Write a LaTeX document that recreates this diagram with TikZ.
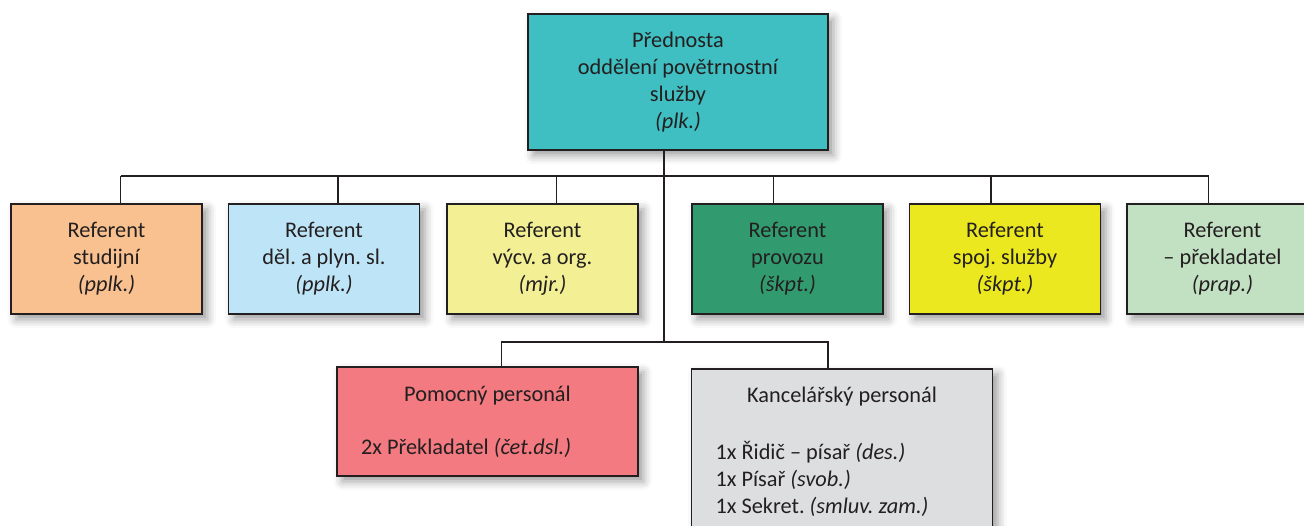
\documentclass[tikz,border=0pt]{standalone}
\usepackage{fontspec}
\setmainfont{Carlito}
\usetikzlibrary{shadows.blur}

\definecolor{ink}{HTML}{231F20}
\definecolor{teal}{HTML}{3FBFC1}
\definecolor{apricot}{HTML}{F9C18F}
\definecolor{sky}{HTML}{BEE5F7}
\definecolor{straw}{HTML}{F2EF94}
\definecolor{jade}{HTML}{319B6F}
\definecolor{lemon}{HTML}{ECE81F}
\definecolor{mint}{HTML}{C2E0C2}
\definecolor{salmon}{HTML}{F27A80}
\definecolor{silver}{HTML}{DDDEE0}

\tikzset{
  unit/.style={draw=ink, line width=1.1pt, text=ink, align=center, inner sep=2pt,
    font=\fontsize{12.7}{15.4}\selectfont\frenchspacing,
    blur shadow={shadow xshift=3pt, shadow yshift=-3pt, shadow blur radius=5pt, shadow opacity=40}},
  referent/.style={unit, minimum width=3.82cm, minimum height=2.2cm},
  staff/.style={unit, align=none, inner xsep=0.48cm, text width=5.06cm, minimum width=6.02cm},
  wire/.style={draw=ink, line width=1.1pt}
}

\begin{document}
\begin{tikzpicture}
\useasboundingbox (0,0) rectangle (26.08,-10.5);

% chief
\node[unit, fill=teal, minimum width=6cm, minimum height=2.72cm] (top) at (13.56,-1.64)
  {P\v{r}ednosta\\odd\v{e}len\'{\i} pov\v{e}trnostn\'{\i}\\slu\v{z}by\\\textit{(plk.)}};

% referents
\node[referent, fill=apricot] (studium) at (2.13,-5.18) {Referent\\studijn\'{\i}\\\textit{(pplk.)}};
\node[referent, fill=sky] (del) at (6.48,-5.18) {Referent\\d\v{e}l. a plyn. sl.\\\textit{(pplk.)}};
\node[referent, fill=straw] (vycvik) at (10.85,-5.18) {Referent\\v\'{y}cv. a org.\\\textit{(mjr.)}};
\node[referent, fill=jade] (provoz) at (15.75,-5.18) {Referent\\provozu\\\textit{(\v{s}kpt.)}};
\node[referent, fill=lemon] (spoj) at (20.1,-5.18) {Referent\\spoj. slu\v{z}by\\\textit{(\v{s}kpt.)}};
\node[referent, fill=mint] (preklad) at (24.45,-5.18) {Referent\\-- p\v{r}ekladatel\\\textit{(prap.)}};

% staff
\node[staff, fill=salmon, minimum height=2.18cm] (pomoc) at (9.75,-8.43)
  {{\centering Pomocn\'{y} person\'{a}l\par}\vspace{0.52cm}
   2x P\v{r}ekladatel \textit{(\v{c}et.dsl.)}};
\node[staff, fill=silver, minimum height=3.3cm, anchor=north, minimum width=6cm] (kancl) at (16.84,-7.36)
  {{\centering Kancel\'{a}\v{r}sk\'{y} person\'{a}l\par}\vspace{0.6cm}
   1x \v{R}idi\v{c} -- p\'{\i}sa\v{r} \textit{(des.)}\\
   1x P\'{\i}sa\v{r} \textit{(svob.)}\\
   1x Sekret. \textit{(smluv. zam.)}};

% wiring
\coordinate (hub) at ([xshift=-0.28cm]top.south);
\draw[wire] (hub) -- ++(0,-3.82) coordinate (fork);
\draw[wire] ([xshift=0.28cm,yshift=0.54cm]studium.north) -- ([xshift=-0.28cm,yshift=0.54cm]preklad.north);
\foreach \n/\s in {studium/1, del/1, vycvik/1, provoz/-1, spoj/-1, preklad/-1}
  \draw[wire] ([xshift=\s*0.28cm]\n.north) -- ++(0,0.54);
\draw[wire] ([xshift=0.28cm]pomoc.north) |- (fork) -| ([xshift=-0.28cm]kancl.north);
\end{tikzpicture}
\end{document}
